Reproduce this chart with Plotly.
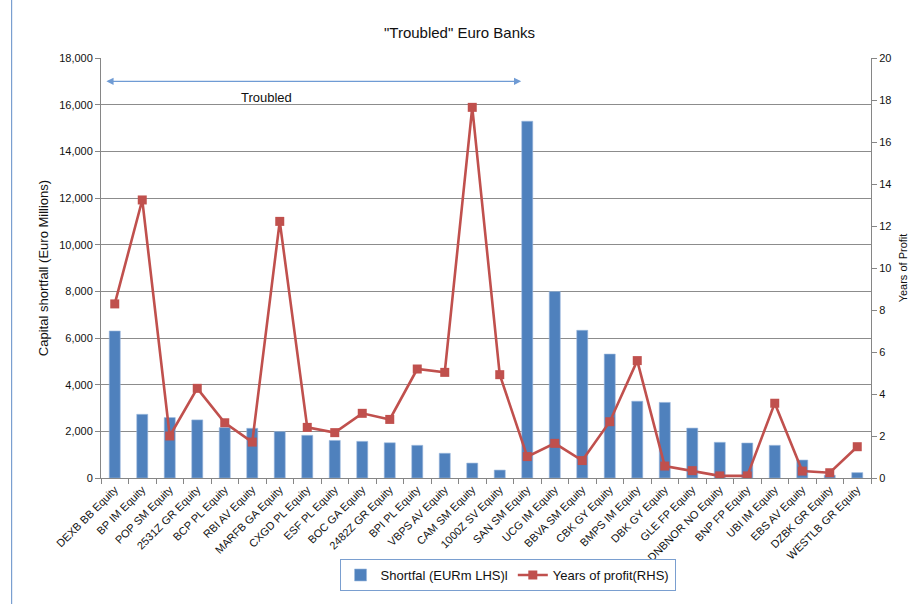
import plotly.graph_objects as go

banks = ["DEXB BB Equity", "BP IM Equity", "POP SM Equity", "2531Z GR Equity", "BCP PL Equity",
         "RBI AV Equity", "MARFB GA Equity", "CXGD PL Equity", "ESF PL Equity", "BOC GA Equity",
         "2482Z GR Equity", "BPI PL Equity", "VBPS AV Equity", "CAM SM Equity", "1000Z SV Equity",
         "SAN SM Equity", "UCG IM Equity", "BBVA SM Equity", "CBK GY Equity", "BMPS IM Equity",
         "DBK GY Equity", "GLE FP Equity", "DNBNOR NO Equity", "BNP FP Equity", "UBI IM Equity",
         "EBS AV Equity", "DZBK GR Equity", "WESTLB GR Equity"]
shortfall = [6300, 2730, 2590, 2490, 2160, 2130, 1990, 1830, 1610, 1570,
             1510, 1400, 1060, 640, 340, 15290, 7990, 6330, 5310, 3290,
             3240, 2140, 1530, 1500, 1400, 770, 120, 230]
years_profit = [8.29, 13.24, 2.0, 4.27, 2.63, 1.71, 12.22, 2.41, 2.16, 3.08,
                2.79, 5.19, 5.03, 17.65, 4.92, 1.02, 1.65, 0.83, 2.68, 5.59,
                0.57, 0.35, 0.1, 0.1, 3.56, 0.33, 0.25, 1.49]

left_ticks = list(range(0, 18001, 2000))
right_ticks = list(range(0, 21, 2))

FONT = "Liberation Sans, Arial, sans-serif"
BLUE = "#4f81bd"
RED = "#c0504d"

n = len(banks)

fig = go.Figure()
fig.add_trace(go.Bar(x=banks, y=shortfall, name="Shortfal (EURm LHS)l",
                     marker=dict(color=BLUE, line=dict(color="#9bb8dd", width=0.6)),
                     width=0.4, yaxis="y"))
fig.add_trace(go.Scatter(x=banks, y=years_profit, name="Years of profit(RHS)",
                         mode="lines+markers", yaxis="y2",
                         line=dict(color=RED, width=2.6),
                         marker=dict(symbol="square", size=9, color=RED)))

fig.update_layout(
    width=919, height=604,
    margin=dict(l=101, r=41, t=58, b=126),
    plot_bgcolor="white", paper_bgcolor="white",
    font=dict(family=FONT, size=11, color="#222"),
    title=dict(text='"Troubled" Euro Banks', x=0.5, xanchor="center", y=0.945, yanchor="middle",
               font=dict(size=15, color="#111")),
    showlegend=True,
    legend=dict(orientation="h", x=0.528, xanchor="center", y=-0.231, yanchor="middle",
                bordercolor="#7a9fd0", borderwidth=1, bgcolor="white",
                font=dict(size=13, color="#111"), itemwidth=30, traceorder="normal"),
    xaxis=dict(type="category", range=[-0.5, n - 0.5], tickangle=-45, tickson="boundaries",
               ticks="outside", ticklen=5,
               tickcolor="#868686", showline=True, linecolor="#868686", linewidth=1,
               tickfont=dict(size=11, color="#111"), showgrid=False),
    yaxis=dict(range=[0, 18000], tickvals=left_ticks, tickformat=",", ticks="outside",
               ticklen=5, tickcolor="#868686", showline=True, linecolor="#868686",
               showgrid=True, gridcolor="#8c8c8c", gridwidth=1, zeroline=False,
               tickfont=dict(size=11, color="#111"),
               title=dict(text="Capital shortfall (Euro Millions)", font=dict(size=13, color="#111"),
                          standoff=7)),
    yaxis2=dict(range=[0, 20], tickvals=right_ticks, overlaying="y", side="right",
                ticks="outside", ticklen=5, tickcolor="#868686", showline=True,
                linecolor="#868686", showgrid=False, zeroline=False,
                tickfont=dict(size=11, color="#111"),
                title=dict(text="Years of Profit", font=dict(size=11, color="#111"), standoff=8)),
)

# double-headed "Troubled" arrow
fig.add_annotation(x=14.78, y=17000, ax=-0.36, ay=17000, xref="x", yref="y", axref="x", ayref="y",
                   text="", showarrow=True, arrowhead=2, startarrowhead=2, arrowside="end+start",
                   arrowsize=1.2, arrowwidth=1.2, arrowcolor="#6f9bd4")
fig.add_annotation(x=5.52, y=16290, xref="x", yref="y", text="Troubled", showarrow=False,
                   font=dict(size=13, color="#111"))

# chart border (left blue line)
fig.add_shape(type="line", xref="paper", yref="paper",
              x0=-0.1161, x1=-0.1161, y0=-0.3, y1=1.138,
              line=dict(color="#7a9fd0", width=1.2))

fig.write_html("out.html")
